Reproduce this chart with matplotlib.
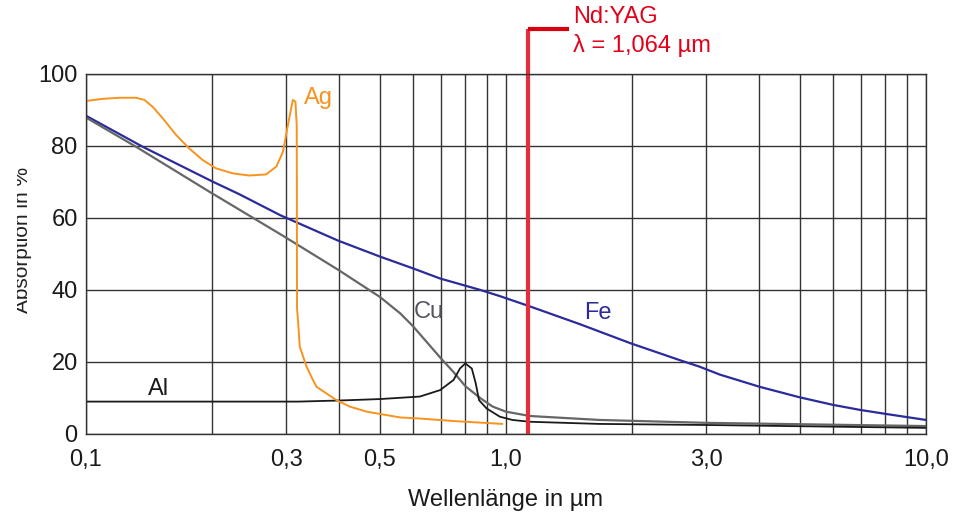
import matplotlib
matplotlib.use("Agg")
import matplotlib.pyplot as plt
from matplotlib.ticker import FixedLocator, NullFormatter
from matplotlib.transforms import Bbox, TransformedBbox

plt.rcParams['font.family'] = ['Liberation Sans', 'DejaVu Sans']

# wavelength in um, absorption in %
fe_x = [0.1, 0.1364, 0.2003, 0.2318, 0.2898, 0.3986, 0.5006, 0.6007, 0.6965, 0.8696, 0.967,
        1.13, 1.5, 1.98, 2.61, 2.89, 3.23, 4.02, 5.0, 6.0, 6.96, 8.0, 10.0]
fe_y = [88.4, 79.8, 70.1, 66.6, 60.8, 53.7, 49.3, 46.0, 43.2, 40.0, 38.3,
        35.6, 30.5, 25.2, 20.4, 18.7, 16.5, 13.1, 10.2, 8.1, 6.7, 5.6, 3.9]

cu_x = [0.1, 0.1315, 0.1967, 0.295, 0.3986, 0.5006, 0.56, 0.6, 0.7, 0.75, 0.8, 0.87,
        0.93, 1.0, 1.14, 1.67, 3.0, 10.0]
cu_y = [87.9, 79.8, 67.3, 55.0, 45.6, 38.1, 33.5, 30.0, 21.0, 17.2, 13.3, 9.9,
        7.6, 6.2, 5.0, 3.9, 3.1, 2.2]

al_x = [0.1, 0.32, 0.4, 0.5, 0.6235, 0.697, 0.75, 0.777, 0.8, 0.829, 0.847, 0.8625,
        0.899, 0.967, 1.036, 1.138, 1.67, 3.0, 10.0]
al_y = [9.0, 9.0, 9.3, 9.7, 10.4, 12.2, 15.0, 18.2, 19.6, 18.2, 14.1, 9.4,
        7.1, 4.8, 3.9, 3.4, 2.8, 2.5, 1.7]

ag_x = [0.1, 0.1096, 0.120, 0.1315, 0.1377, 0.1441, 0.1523, 0.1638, 0.1762, 0.1896,
        0.2039, 0.2235, 0.2448, 0.2683, 0.284, 0.2944, 0.3025, 0.3108, 0.3152, 0.3175,
        0.3178, 0.318, 0.3205, 0.3228, 0.335, 0.347, 0.354, 0.395, 0.425, 0.466,
        0.56, 0.6235, 0.75, 0.98]
ag_y = [92.5, 93.1, 93.4, 93.4, 92.8, 90.9, 87.7, 83.1, 79.3, 76.1,
        73.8, 72.4, 71.8, 72.1, 74.3, 78.4, 85.8, 92.8, 92.3, 85.8,
        60.0, 35.0, 29.8, 24.3, 18.7, 15.0, 13.1, 9.4, 7.6, 6.2,
        4.6, 4.3, 3.6, 2.8]

x_ticks = [0.1, 0.3, 0.5, 1.0, 3.0, 10.0]
x_labels = ['0,1', '0,3', '0,5', '1,0', '3,0', '10,0']
x_grid = [0.2, 0.4, 0.6, 0.7, 0.8, 0.9, 2, 4, 5, 6, 7, 8, 9]
y_ticks = [0, 20, 40, 60, 80, 100]

# laser line (drawn where the picture puts it)
yag_x = 1.13

fig = plt.figure(figsize=(9.64, 5.15), dpi=100)
ax = fig.add_axes([86/964, 81/515, 840/964, 360/515])

grid_c = '#333333'
kw = dict(solid_joinstyle='round', solid_capstyle='round')
ax.plot(fe_x, fe_y, color='#2B2B9B', lw=1.6, **kw)
ax.plot(cu_x, cu_y, color='#666666', lw=1.6, **kw)
ax.plot(al_x, al_y, color='#1a1a1a', lw=1.3, **kw)
ax.plot(ag_x, ag_y, color='#F7931E', lw=1.4, **kw)

ax.set_xscale('log')
ax.set_xlim(0.1, 10)
ax.set_ylim(0, 100)
ax.xaxis.set_major_locator(FixedLocator(x_ticks))
ax.xaxis.set_minor_locator(FixedLocator(x_grid))
ax.xaxis.set_minor_formatter(NullFormatter())
ax.set_xticklabels(x_labels)
ax.set_yticks(y_ticks)
ax.grid(True, which='both', color=grid_c, lw=1.0)
ax.set_axisbelow(True)
ax.tick_params(which='both', length=0, labelsize=17, colors='#1a1a1a')
ax.tick_params(axis='x', pad=11)
ax.tick_params(axis='y', pad=6)
for s in ax.spines.values():
    s.set_color(grid_c)
    s.set_linewidth(1.0)

# Nd:YAG marker
ax.plot([yag_x, yag_x], [0, 112.5], color='#E62E3A', lw=3.0, clip_on=False, solid_capstyle='butt')
ax.plot([yag_x, 1.413], [112.5, 112.5], color='#D9000F', lw=3.0, clip_on=False, solid_capstyle='butt')
ax.text(1.444, 115.8, 'Nd:YAG', color='#E2001A', fontsize=17, va='center', ha='left', clip_on=False)
ax.text(1.444, 108.0, 'λ = 1,064 µm', color='#E2001A', fontsize=17, va='center', ha='left', clip_on=False)

# curve labels
ax.text(0.330, 93.3, 'Ag', color='#F7931E', fontsize=17, va='center')
ax.text(0.604, 33.9, 'Cu', color='#555560', fontsize=17, va='center')
ax.text(1.534, 33.6, 'Fe', color='#2B2B9B', fontsize=17, va='center')
ax.text(0.1406, 12.5, 'Al', color='#1a1a1a', fontsize=17, va='center')

ax.set_xlabel('Wellenlänge in µm', fontsize=17, color='#1a1a1a', labelpad=13)

# y label is cut off on the left in the original
yl = fig.text(28/964, 0.534, 'Absorption in %', rotation=90, fontsize=15, color='#222222',
              ha='center', va='baseline', rotation_mode='anchor')
yl.set_clip_box(TransformedBbox(Bbox.from_extents(17/964, 0, 1, 1), fig.transFigure))
yl.set_clip_on(True)

fig.savefig('out.png', dpi=100)
